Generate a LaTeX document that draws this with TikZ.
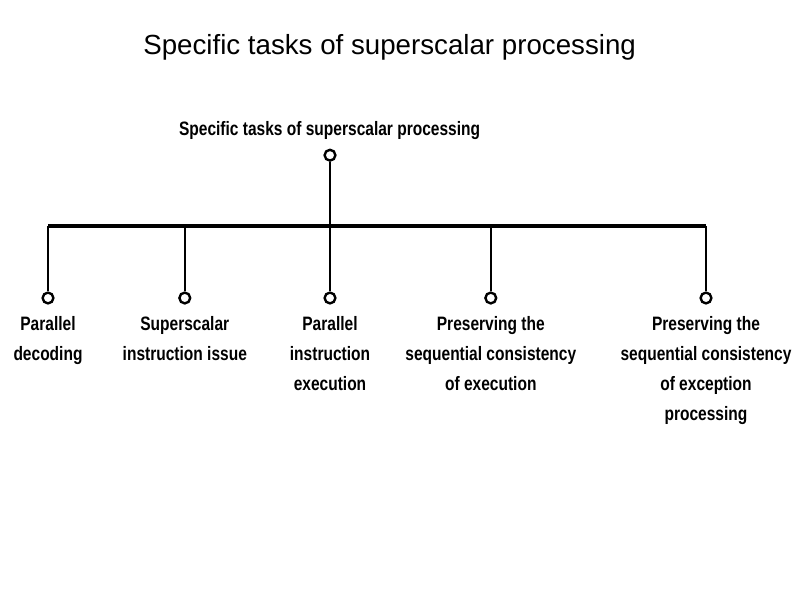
\documentclass[tikz,border=0pt]{standalone}
\usepackage{fontspec}
\setmainfont{Liberation Sans}
\newfontfamily\scanfont[FakeStretch=0.8]{Liberation Sans}
\usetikzlibrary{positioning}
\tikzstyle{knob} = [circle, draw, line width=1.7pt, minimum size=0.27cm, inner sep=0pt]
\tikzstyle{task} = [align=center, inner sep=0pt, font=\scanfont\bfseries\fontsize{13.8}{21.3}\selectfont]
\tikzstyle{stem} = [line width=1.3pt]
\tikzstyle{bar} = [line width=2.2pt]

\begin{document}
\begin{tikzpicture}
                    \useasboundingbox (0,0) rectangle (19.85,-14.875);
                    \node[font=\fontsize{19.7}{24}\selectfont] (title) at (9.74,-1.18) {Specific tasks of superscalar processing};

                    \node[task] (head) at (8.24,-3.27) {Specific tasks of superscalar processing};
                    \node[knob] (top) at (8.25,-3.88) {};
                    \coordinate (barl) at (1.2,-5.65);
                    \coordinate (barr) at (17.65,-5.65);
                    \draw[bar] (barl) -- (barr);
                    \draw[stem] (top.south) -- (top.south |- barl);

                    % the five tasks
                    \node[knob] (dec) at (1.2,-7.45) {};
                    \node[knob] (iss) at (4.62,-7.45) {};
                    \node[knob] (exe) at (8.25,-7.45) {};
                    \node[knob] (seq) at (12.27,-7.45) {};
                    \node[knob] (exc) at (17.65,-7.45) {};
                    \foreach \k in {dec,iss,exe,seq,exc}
                        \draw[stem] (\k.north) -- (\k.north |- barl);

                    \node[task, below=0.3cm of dec] (decl) {Parallel\\decoding};
                    \node[task, below=0.3cm of iss] (issl) {Superscalar\\instruction issue};
                    \node[task, below=0.3cm of exe] (exel) {Parallel\\instruction\\execution};
                    \node[task, below=0.3cm of seq] (seql) {Preserving the\\sequential consistency\\of execution};
                    \node[task, below=0.3cm of exc] (excl) {Preserving the\\sequential consistency\\of exception\\processing};
                \end{tikzpicture}
\end{document}
